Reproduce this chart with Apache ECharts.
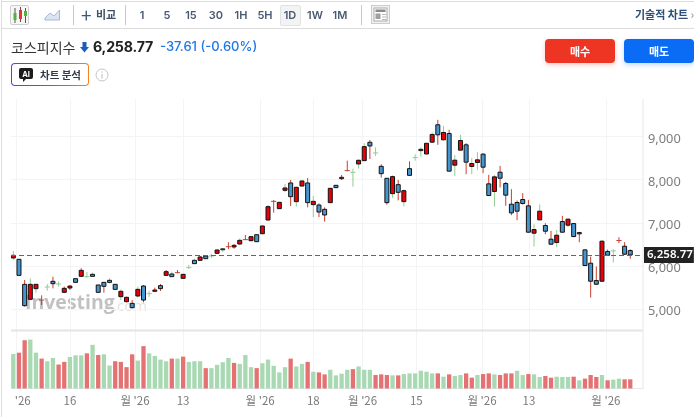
<!DOCTYPE html>
<html><head><meta charset="utf-8">
<style>
html,body{margin:0;padding:0;background:#fff;width:694px;height:417px;overflow:hidden;font-family:"Noto Sans CJK KR","Noto Sans",sans-serif;}
.a{position:absolute;white-space:nowrap;}
.tb{top:6px;height:18px;line-height:18px;font-size:11px;font-weight:600;color:#4a5a70;text-align:center;width:24px;font-family:"Inter","Noto Sans CJK KR",sans-serif;}
.sep{top:5px;width:1px;height:20px;background:#c9c9c9;}
#chart{position:absolute;left:11px;top:0;width:683px;height:417px;overflow:hidden;}
</style></head><body>
<div class="a" style="left:1px;top:0;width:1px;height:417px;background:#dcdcdc"></div>
<div class="a" style="left:1px;top:1px;width:693px;height:1px;background:#dcdcdc"></div>
<div class="a" style="left:1px;top:28px;width:693px;height:1px;background:#dcdcdc"></div>
<div id="chart"></div>
<div class="a" style="left:10px;top:5px;width:17px;height:18px;border:1px solid #cfcfcf;background:#f6f6f6;border-radius:2px"></div>
<svg class="a" style="left:11px;top:6px" width="18" height="18"><path d="M4 2v15M9.500 1v15M14.500 2v15" stroke="#555" stroke-width="1"/><rect x="2.500" y="7" width="3" height="7" fill="#52b13f"/><rect x="8" y="4" width="3" height="9" fill="#e03a2d"/><rect x="13" y="5" width="3" height="5" fill="#52b13f"/></svg>
<svg class="a" style="left:44px;top:8px" width="17" height="13"><path d="M1 10L6 5L10 8L15.500 2V12H1Z" fill="#dbe4f2" stroke="#a8b9d4" stroke-width="1"/></svg>
<div class="a sep" style="left:73px"></div>
<div class="a" style="left:81px;top:4px;font-size:19px;line-height:22px;color:#3c5878;font-weight:400">+</div>
<div class="a" style="left:96px;top:5px;font-size:11px;line-height:18px;color:#3f5068;font-weight:600">비교</div>
<div class="a sep" style="left:125px"></div>
<div class="a tb" style="left:130px">1</div>
<div class="a tb" style="left:155px">5</div>
<div class="a tb" style="left:179px">15</div>
<div class="a tb" style="left:204px">30</div>
<div class="a tb" style="left:229px">1H</div>
<div class="a tb" style="left:253px">5H</div>
<div class="a" style="left:280px;top:5px;width:19px;height:19px;background:#f3f3f3;border:1px solid #e2e2e2;border-radius:2px"></div>
<div class="a tb" style="left:278px">1D</div>
<div class="a tb" style="left:303px">1W</div>
<div class="a tb" style="left:328px">1M</div>
<div class="a sep" style="left:361px"></div>
<svg class="a" style="left:371px;top:5px" width="19" height="19"><rect x=".5" y=".5" width="18" height="18" fill="#f1f1f1" stroke="#cdcdcd"/><rect x="3" y="3" width="13" height="13" fill="#fff" stroke="#a9a9a9"/><rect x="4.500" y="4.500" width="10" height="2.500" fill="#8a8a8a"/><rect x="4.500" y="8.500" width="5" height="5.500" fill="#a0a0a0"/><path d="M11 9.500h4M11 12h4M11 14.500h4" stroke="#bbb"/></svg>
<div class="a" style="left:635px;top:5px;font-size:11px;line-height:18px;font-weight:600;color:#2a5078">기술적 차트 <span style="color:#8aa">›</span></div>

<div class="a" style="left:11px;top:37px;font-size:14px;line-height:20px;color:#333">코스피지수</div>
<svg class="a" style="left:80px;top:42px" width="9" height="11"><path d="M2.500 0H6.500V5H9L4.500 10.500L0 5H2.500Z" fill="#1a5fc0"/></svg>
<div class="a" style="left:93px;top:36px;font-size:14.200px;line-height:21px;font-weight:700;color:#222;font-family:'Inter',sans-serif;letter-spacing:-.2px">6,258.77</div>
<div class="a" style="left:160px;top:37px;font-size:13px;line-height:19px;font-weight:500;color:#1f78e8;font-family:'Inter',sans-serif;">-37.61 (-0.60%)</div>

<div class="a" style="left:11px;top:63px;width:78px;height:23px;border-radius:4px;background:linear-gradient(90deg,#5a3fe0,#c0389a 50%,#f58220);"></div>
<div class="a" style="left:12px;top:64px;width:76px;height:21px;border-radius:3px;background:#fff"></div>
<svg class="a" style="left:19px;top:68px" width="14" height="14"><path d="M2 0H12a2 2 0 0 1 2 2V9a2 2 0 0 1-2 2H7L4 14V11H2a2 2 0 0 1-2-2V2a2 2 0 0 1 2-2Z" fill="#1c1c1c"/><text x="7" y="8.500" font-size="7.500" font-weight="700" fill="#fff" text-anchor="middle" font-family="Inter">AI</text></svg>
<div class="a" style="left:40px;top:65px;font-size:10.500px;line-height:19px;font-weight:600;color:#333b48">차트 분석</div>
<svg class="a" style="left:95px;top:68px" width="14" height="14"><circle cx="7" cy="7" r="6" fill="none" stroke="#c4c4c4"/><path d="M7 6v4.500M7 3.500v1.300" stroke="#c4c4c4" stroke-width="1.200"/></svg>

<div class="a" style="left:545px;top:39px;width:70px;height:24px;background:#ee3524;border-radius:4px;box-shadow:0 2px 5px rgba(238,53,36,.25);color:#fff;font-size:11px;font-weight:700;line-height:24px;text-align:center">매수</div>
<div class="a" style="left:624px;top:39px;width:70px;height:24px;background:#0a6cf5;border-radius:4px;box-shadow:0 2px 5px rgba(10,108,245,.25);color:#fff;font-size:11px;font-weight:700;line-height:24px;text-align:center">매도</div>

<script src="https://cdn.jsdelivr.net/npm/echarts@6/dist/echarts.min.js"></script>
<script>
const opens=[6188,6157,5578,5231,5478,5215,5516,5648,5586,5393,5493,5709,5763,5756,5810,5563,5624,5671,5578,5292,5177,5138,5308,5539,5362,5416,5547,5786,5817,5848,5717,5964,6134,6134,6234,6234,6296,6400,6449,6442,6511,6612,6588,6727,6750,7067,7499,7330,7754,7924,7492,7854,7924,7422,7414,7314,7469,7870,8024,8210,8171,8364,8441,8866,8619,8310,8032,7677,7885,7492,8256,8511,8673,8596,8869,9271,8923,9070,8336,8684,8807,8306,8398,8591,7904,7727,8174,7912,7433,7472,7541,7395,6762,7070,6939,6623,6545,7032,6947,6985,6746,6376,6067,5665,5650,6337,6352,6592,6460,6360];
const closes=[6250,5786,5084,5578,5578,5215,5516,5593,5586,5485,5539,5624,5902,5756,5763,5393,5532,5624,5462,5416,5277,5038,5462,5215,5362,5447,5478,5871,5756,5848,5810,5964,6057,6211,6172,6234,6373,6378,6449,6480,6596,6612,6681,6565,6928,7376,7499,7476,7808,7607,7824,7970,7469,7499,7252,7183,7800,7816,8055,8210,8171,8449,8765,8781,8619,8140,7469,8071,7708,7746,8101,8511,8704,8843,9047,9039,9093,8198,8452,8908,8406,8375,8460,8290,7634,8066,8035,7642,7232,7271,7449,6785,6846,7271,6808,6507,6715,6785,7086,6684,6777,6013,5650,5580,6576,6252,6352,6592,6275,6258.77];
const lows=[6142,5786,5061,5215,5385,5099,5431,5485,5524,5385,5447,5624,5756,5732,5756,5393,5385,5601,5462,5215,5160,5022,5269,5161,5292,5408,5424,5779,5748,5833,5710,5941,6049,6126,6165,6188,6288,6327,6395,6403,6488,6604,6580,6557,6742,7052,7237,7323,7715,7391,7376,7846,7360,7136,7136,7028,7461,7808,7993,8194,7839,8256,8433,8480,8549,8047,7422,7584,7522,7384,8086,8441,8534,8590,8846,8807,8908,8190,8089,8676,8128,8128,8228,8151,7626,7379,7819,7395,7178,7063,7426,6777,6453,7063,6738,6491,6437,6777,6901,6669,6553,6005,5272,5565,5642,6244,6082,6530,6260,6167];
const highs=[6350,6157,5678,5717,5578,5323,5586,5756,5640,5524,5555,5709,5949,5864,5848,5563,5624,5717,5578,5462,5292,5215,5524,5563,5431,5501,5586,5910,5871,5910,5817,6026,6172,6234,6250,6281,6380,6412,6550,6511,6642,6720,6690,6735,6936,7414,7530,7484,7901,7993,7839,7978,8040,7623,7453,7360,7808,7878,8109,8441,8256,8472,8843,8920,8750,8356,8040,8101,7993,7777,8426,8588,8750,8850,9093,9386,9247,9155,8568,9039,8846,8499,8638,8614,8113,8113,8321,7950,7781,7518,7688,7534,6970,7426,6993,6816,6839,7163,7101,6993,6793,6399,6221,5990,6607,6383,6391,6669,6553,6391];
const wickTones="g r r g g r g r g r r g r g g g r g g g r r g r g r r r g r r g g r g g r g r r g r r g r g r r g r g r r g r r r g r r g g g r g r r g r g r g g r g r g r g g r g g r r g r r r r r r g g r r g r g r r g r r g r g r r r".split(" ");
const volumes=[105,109,147,149,109,91,83,93,73,81,96,101,101,107,133,102,104,70,83,81,65,104,85,129,107,99,88,83,91,91,97,81,83,83,62,62,72,80,93,78,75,102,65,62,77,88,69,49,65,91,67,75,81,51,49,43,57,40,45,57,59,67,57,57,41,43,41,40,40,44,46,46,54,51,46,46,36,43,38,41,46,33,41,44,46,43,41,46,46,54,41,44,43,35,38,33,36,35,35,36,25,30,41,35,41,25,27,30,28,28];
const volumeTones="g r r g g r g g r r g g g r g r g g r r r r g r g g g g r g r g g g r g g g g r g g g r g g g g g r g g r g r r g g g g r g g g r r r g r g g g g g g r g r g g r r g r r g r r r g g r g g r r g g g r g r r r g r g g r r".split(" ");
const tickPositions=[0.5,10,21.5,30,43.6,53,61.7,71.2,82.8,91.1,104.7];
const tickLabels=["월 '26","16","월 '26","13","월 '26","18","월 '26","15","월 '26","13","월 '26"];
const priceTicks=[5000,6000,7000,8000,9000];
const lastPrice=6258.77;

const RED_W='#c8402f',GREEN_W='#93cc93',RED_B='#e8000b',BLUE_B='#4596d0',RED_V='#e57272',GREEN_V='#a8d9b2';
const candleData=opens.map((o,i)=>[i,o,closes[i],lows[i],highs[i]]);
function renderCandle(params,api){
  const i=api.value(0),o=api.value(1),c=api.value(2),l=api.value(3),h=api.value(4);
  const x=api.coord([i,o])[0];
  const yO=api.coord([i,o])[1],yC=api.coord([i,c])[1],yL=api.coord([i,l])[1],yH=api.coord([i,h])[1];
  const wc=wickTones[i]==='r'?RED_W:GREEN_W;
  const kids=[];
  kids.push({type:'line',shape:{x1:x,y1:yH,x2:x,y2:yL},style:{stroke:wc,lineWidth:1}});
  if(o===c){
    kids.push({type:'line',shape:{x1:x-2.600,y1:yO,x2:x+2.600,y2:yO},style:{stroke:wc,lineWidth:1}});
  }else{
    const top=Math.min(yO,yC),ht=Math.abs(yO-yC);
    const thin=ht<2;
    kids.push({type:'rect',shape:{x:x-2,y:top,width:4,height:ht},style:{fill:c>o?RED_B:BLUE_B,stroke:'#111',lineWidth:thin?.9:1}});
  }
  return {type:'group',children:kids};
}
function renderVolume(params,api){
  const i=api.value(0),v=api.value(1);
  const t=api.coord([i,v]),b=api.coord([i,0]);
  return {type:'rect',shape:{x:t[0]-2.150,y:t[1],width:4.300,height:b[1]-t[1]},style:{fill:volumeTones[i]==='r'?RED_V:GREEN_V}};
}
const chart=echarts.init(document.getElementById('chart'),null,{renderer:'canvas'});
const axisFont='"Noto Sans CJK KR","Noto Sans",sans-serif';
const xCommon={type:'value',min:-0.41,max:111.25,axisTick:{show:false,customValues:tickPositions},splitLine:{show:true,lineStyle:{color:'#f3f4f6',width:1}}};
chart.setOption({
  animation:false,
  backgroundColor:'transparent',
  graphic:[
    {type:'text',left:14,top:293,z:0,silent:true,style:{text:'Investing',font:'bold 19.500px "Open Sans",sans-serif',fill:'rgba(100,100,100,.4)'}},
    {type:'text',left:102,top:299,z:0,silent:true,style:{text:'.com',font:'15px "Open Sans",sans-serif',fill:'rgba(120,120,120,.22)'}},
    {type:'rect',shape:{x:0,y:329.500,width:632,height:2},style:{fill:'#e4e4e4'},z:5,silent:true},
    {type:'rect',shape:{x:631.500,y:99,width:1,height:290},style:{fill:'#e6e8ee'},z:5,silent:true}
  ],
  grid:[
    {left:0,top:99,width:632,height:231,outerBoundsMode:'none'},
    {left:0,top:331,width:632,height:57.500,outerBoundsMode:'none'}
  ],
  xAxis:[
    Object.assign({gridIndex:0,axisLine:{show:false},axisLabel:{show:false}},xCommon),
    Object.assign({gridIndex:1,axisLine:{show:true,lineStyle:{color:'#e6e8ee'}},
      axisLabel:{show:true,customValues:tickPositions,color:'#7a7a7a',fontSize:11.500,fontFamily:axisFont,margin:6,hideOverlap:false,showMinLabel:true,
        formatter:v=>{const k=tickPositions.indexOf(v);return k>=0?tickLabels[k]:'';}}},xCommon)
  ],
  yAxis:[
    {type:'value',gridIndex:0,position:'right',min:4521,max:9868,
      axisLine:{show:false},axisTick:{show:false,customValues:priceTicks},
      splitLine:{show:true,lineStyle:{color:'#f3f4f6'}},
      axisLabel:{customValues:priceTicks,margin:5,
        rich:{p:{color:'#7d7d7d',fontSize:12.800,fontFamily:'"Noto Sans",sans-serif',padding:[5,0,0,0]}},
        formatter:v=>'{p|'+v.toLocaleString('en-US')+'}'}},
    {type:'value',gridIndex:1,min:0,max:175,show:false}
  ],
  series:[
    {type:'custom',name:'코스피지수',xAxisIndex:0,yAxisIndex:0,data:candleData,clip:false,z:3,
      encode:{x:0,y:[1,2,3,4]},renderItem:renderCandle,
      markLine:{silent:true,symbol:'none',animation:false,z:4,
        lineStyle:{color:'#666',type:[5,3],width:1},
        label:{show:true,position:'end',distance:1,formatter:()=>lastPrice.toLocaleString('en-US',{minimumFractionDigits:2}),
          color:'#fff',backgroundColor:'#222',padding:[2,1,2,3],fontSize:11.500,fontWeight:600,fontFamily:'"Noto Sans",sans-serif'},
        data:[{yAxis:lastPrice}]}},
    {type:'custom',name:'거래량',xAxisIndex:1,yAxisIndex:1,z:3,encode:{x:0,y:1},renderItem:renderVolume,
      data:volumes.map((v,i)=>[i,v])}
  ]
});
</script>
</body></html>
